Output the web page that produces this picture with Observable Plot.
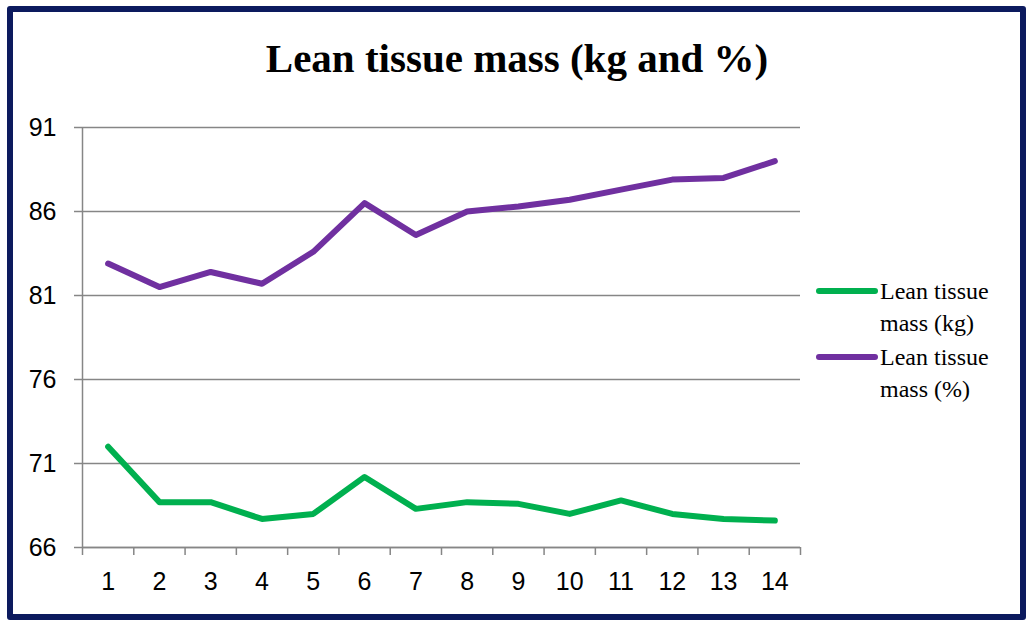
<!DOCTYPE html>
<html>
<head>
<meta charset="utf-8">
<script src="https://cdn.jsdelivr.net/npm/d3@7"></script>
<script src="https://cdn.jsdelivr.net/npm/@observablehq/plot@0.6"></script>
<style>
  html, body { margin: 0; padding: 0; background: #fff; }
  #wrap { position: relative; width: 1034px; height: 628px; overflow: hidden; }
  #frame { position: absolute; left: 7px; top: 6px; width: 1007px; height: 602px;
           border: 6px solid #0c1a5e; border-radius: 3px; pointer-events: none; }
  #title { position: absolute; left: 0; width: 1034px; top: 34px; text-align: center;
           font-family: "Liberation Serif", serif; font-weight: bold; font-size: 41px; color: #000; line-height: normal; }
  #chart { position: absolute; left: 0; top: 0; }
  .leg { position: absolute; left: 816px; font-family: "Liberation Serif", serif; font-size: 24px;
         line-height: 32px; color: #000; display: flex; align-items: flex-start; }
  .leg .sw { width: 62px; height: 6px; border-radius: 3px; margin-top: 13px; margin-right: 2px; }
</style>
</head>
<body>
<div id="wrap">
  <div id="chart"></div>
  <div id="title">Lean tissue mass (kg and %)</div>
  <div class="leg" style="top:275px"><div class="sw" style="background:#00b04f"></div><div>Lean tissue<br>mass (kg)</div></div>
  <div class="leg" style="top:341px"><div class="sw" style="background:#7030a0"></div><div>Lean tissue<br>mass (%)</div></div>
  <div id="frame"></div>
</div>
<script>
const sessions = [1,2,3,4,5,6,7,8,9,10,11,12,13,14];
const leanKg = [72.0, 68.7, 68.7, 67.7, 68.0, 70.2, 68.3, 68.7, 68.6, 68.0, 68.8, 68.0, 67.7, 67.6];
const leanPct = [82.9, 81.5, 82.4, 81.7, 83.6, 86.5, 84.6, 86.0, 86.3, 86.7, 87.3, 87.9, 88.0, 89.0];
const yTicks = [66, 71, 76, 81, 86, 91];
const bandEdges = [0.5,1.5,2.5,3.5,4.5,5.5,6.5,7.5,8.5,9.5,10.5,11.5,12.5,13.5,14.5];
const seriesNames = ["Lean tissue mass (kg)", "Lean tissue mass (%)"];
const colors = ["#00b04f", "#7030a0"];

const data = [];
sessions.forEach((s, i) => {
  data.push({x: s, y: leanKg[i], series: seriesNames[0]});
  data.push({x: s, y: leanPct[i], series: seriesNames[1]});
});

const plot = Plot.plot({
  width: 1034,
  height: 628,
  marginLeft: 82,
  marginRight: 234,
  marginTop: 127,
  marginBottom: 81,
  style: { background: "transparent", fontFamily: "Liberation Sans, sans-serif", color: "#000" },
  x: { type: "linear", domain: [0.5, 14.5] },
  y: { domain: [66, 91] },
  color: { domain: seriesNames, range: colors },
  marks: [
    Plot.gridY(yTicks, { stroke: "#868686", strokeOpacity: 1, strokeWidth: 1.5 }),
    Plot.ruleX([0.5], { y1: 66, y2: 91, stroke: "#868686", strokeWidth: 1.5 }),
    Plot.ruleY([66], { stroke: "#868686", strokeWidth: 1.5 }),
    Plot.axisY(yTicks, { tickSize: 8, tickPadding: 18, stroke: "#868686", strokeWidth: 1.5, label: null, fill: "#000", fontSize: 25 }),
    Plot.axisX(bandEdges, { tickSize: 8, tickFormat: () => "", stroke: "#868686", strokeWidth: 1.5, label: null }),
    Plot.axisX(sessions, { tickSize: 0, tickPadding: 25, label: null, fill: "#000", fontSize: 25, tickFormat: d => String(d) }),
    Plot.line(data, { x: "x", y: "y", z: "series", stroke: "series", strokeWidth: 6, strokeLinecap: "round", strokeLinejoin: "round" })
  ]
});
document.getElementById("chart").appendChild(plot);
</script>
</body>
</html>
